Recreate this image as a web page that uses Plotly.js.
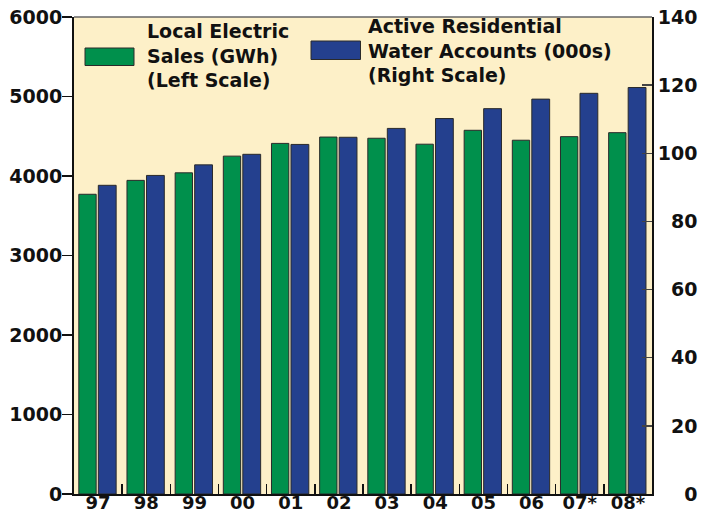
<!DOCTYPE html>
<html>
<head>
<meta charset="utf-8">
<script src="https://cdn.plot.ly/plotly-3.0.1.min.js"></script>
<style>html,body{margin:0;padding:0;background:#fff;}#chart{width:710px;height:512px;}</style>
</head>
<body>
<div id="chart"></div>
<script>
// ---- data ----
const years = ["97", "98", "99", "00", "01", "02", "03", "04", "05", "06", "07*", "08*"];
const electricSales = [3770, 3945, 4040, 4250, 4410, 4490, 4475, 4400, 4575, 4450, 4495, 4545];
const waterAccounts = [90.6, 93.5, 96.6, 99.7, 102.6, 104.7, 107.3, 110.2, 113.1, 115.9, 117.6, 119.3];
const leftTicks = [0, 1000, 2000, 3000, 4000, 5000, 6000];
const rightTicks = [0, 20, 40, 60, 80, 100, 120, 140];
const legendElectric = "Local Electric<br>Sales (GWh)<br>(Left Scale)";
const legendWater = "Active Residential<br>Water Accounts (000s)<br>(Right Scale)";

// ---- styling ----
const FONT = "DejaVu Sans";
const GREEN = "#00904c";
const BLUE = "#24408e";
const BG = "#fdf0c8";
const OUT = "#2a2a2a";

// layout geometry (px)
const W = 710, H = 512, L = 74, R = 58, T = 17, B = 18;
const PW = W - L - R, PH = H - T - B;
const px = x => (x - L) / PW;
const py = y => (H - B - y) / PH;

// right labels padded with figure spaces to right-align
const rightText = rightTicks.map(v => {
  const s = String(v);
  return "\u2007".repeat(3 - s.length) + s;
});

const traces = [
  {
    type: "bar", x: years, y: electricSales, yaxis: "y",
    width: 0.36, offset: -0.40,
    marker: {color: GREEN, line: {color: OUT, width: 1}},
    hoverinfo: "x+y", showlegend: false
  },
  {
    type: "bar", x: years, y: waterAccounts, yaxis: "y2",
    width: 0.37, offset: 0.005,
    marker: {color: BLUE, line: {color: OUT, width: 1}},
    hoverinfo: "x+y", showlegend: false
  }
];

const layout = {
  width: W, height: H,
  margin: {l: L, r: R, t: T, b: B, pad: 0},
  paper_bgcolor: "#ffffff",
  plot_bgcolor: BG,
  showlegend: false,
  barmode: "overlay",
  font: {family: FONT, color: "#111", size: 18},
  xaxis: {
    type: "category",
    tickson: "boundaries",
    ticks: "inside", ticklen: 10, tickwidth: 1.5, tickcolor: "#111",
    ticklabelstandoff: -9,
    showline: true, linecolor: "#111", linewidth: 2, mirror: false,
    tickfont: {family: FONT, size: 18, color: "#111", weight: "bold"},
    showgrid: false, zeroline: false, automargin: false,
    fixedrange: true
  },
  yaxis: {
    range: [0, 6000],
    tickmode: "array", tickvals: leftTicks, ticktext: leftTicks.map(String),
    ticks: "outside", ticklen: 10, tickwidth: 1.5, tickcolor: "#111",
    ticklabelstandoff: -4,
    showline: true, linecolor: "#111", linewidth: 2,
    showgrid: false, zeroline: false, automargin: false,
    tickfont: {family: FONT, size: 19, color: "#111", weight: "bold"},
    fixedrange: true
  },
  yaxis2: {
    range: [0, 140], overlaying: "y", side: "right",
    tickmode: "array", tickvals: rightTicks, ticktext: rightText,
    ticks: "inside", ticklen: 10, tickwidth: 1.5, tickcolor: "#444",
    showline: true, linecolor: "#111", linewidth: 2,
    showgrid: false, zeroline: false, automargin: false,
    tickfont: {family: FONT, size: 19, color: "#111", weight: "bold"},
    fixedrange: true
  },
  shapes: [
    // top frame line
    {type: "line", xref: "paper", yref: "paper", x0: 0, x1: 1, y0: 1, y1: 1,
     line: {color: "#666", width: 1.5}},
    // legend swatches
    {type: "rect", xref: "paper", yref: "paper",
     x0: px(85), x1: px(134), y0: py(65.5), y1: py(48),
     fillcolor: GREEN, line: {color: OUT, width: 1}},
    {type: "rect", xref: "paper", yref: "paper",
     x0: px(311), x1: px(360.5), y0: py(59.5), y1: py(41),
     fillcolor: BLUE, line: {color: OUT, width: 1}}
  ],
  annotations: [
    {xref: "paper", yref: "paper", x: px(145), y: py(18), xanchor: "left", yanchor: "top",
     align: "left", showarrow: false, text: legendElectric,
     font: {family: FONT, size: 19, color: "#111", weight: "bold"}},
    {xref: "paper", yref: "paper", x: px(366), y: py(13), xanchor: "left", yanchor: "top",
     align: "left", showarrow: false, text: legendWater,
     font: {family: FONT, size: 19, color: "#111", weight: "bold"}}
  ]
};

Plotly.newPlot("chart", traces, layout, {staticPlot: true, displayModeBar: false});
</script>
</body>
</html>
